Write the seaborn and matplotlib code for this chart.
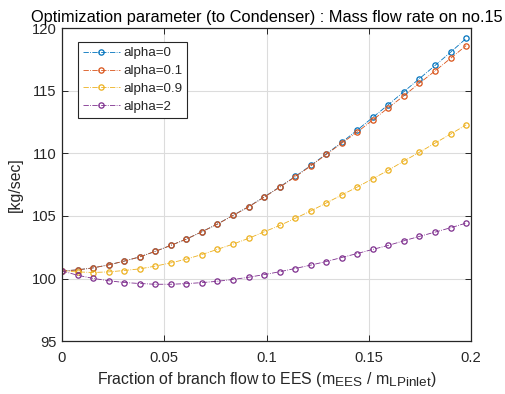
import matplotlib

matplotlib.use("Agg")
import matplotlib._mathtext as mathtext_internal
import matplotlib.pyplot as plt
import pandas as pd
import seaborn as sns

# MATLAB-style subscripts are nearly full size
mathtext_internal.SHRINK_FACTOR = 0.85

# Fraction of branch flow to EES
frac = [0.0, 0.0076, 0.0152, 0.0228, 0.0304, 0.038, 0.0456, 0.0532, 0.0608,
        0.0684, 0.076, 0.0836, 0.0912, 0.0988, 0.1064, 0.114, 0.1216, 0.1292,
        0.1368, 0.1444, 0.152, 0.1596, 0.1672, 0.1748, 0.1824, 0.19, 0.1976]

flow_a0 = [100.60, 100.69, 100.85, 101.09, 101.39, 101.73, 102.17, 102.65, 103.15,
           103.74, 104.36, 105.05, 105.74, 106.52, 107.32, 108.16, 109.04, 109.96,
           110.89, 111.88, 112.89, 113.91, 114.95, 115.99, 117.04, 118.10, 119.20]
flow_a01 = [100.60, 100.69, 100.85, 101.09, 101.39, 101.73, 102.17, 102.65, 103.15,
            103.74, 104.35, 105.04, 105.73, 106.50, 107.30, 108.13, 109.00, 109.92,
            110.83, 111.72, 112.69, 113.66, 114.62, 115.63, 116.60, 117.61, 118.63]
flow_a09 = [100.60, 100.53, 100.48, 100.53, 100.64, 100.77, 100.99, 101.25, 101.55,
            101.92, 102.33, 102.75, 103.21, 103.73, 104.24, 104.81, 105.40, 106.04,
            106.68, 107.32, 107.99, 108.66, 109.40, 110.10, 110.83, 111.55, 112.29]
flow_a2 = [100.61, 100.26, 100.01, 99.82, 99.68, 99.60, 99.54, 99.54, 99.59,
           99.67, 99.78, 99.92, 100.10, 100.31, 100.54, 100.80, 101.07, 101.36,
           101.68, 102.00, 102.33, 102.65, 103.02, 103.37, 103.71, 104.06, 104.43]

series_names = ["alpha=0", "alpha=0.1", "alpha=0.9", "alpha=2"]
series_values = [flow_a0, flow_a01, flow_a09, flow_a2]
colors = ["#0072BD", "#D95319", "#EDB120", "#7E2F8E"]

x_ticks = [0, 0.05, 0.1, 0.15, 0.2]
x_tick_labels = ["0", "0.05", "0.1", "0.15", "0.2"]
y_ticks = [95, 100, 105, 110, 115, 120]

sns.set_theme(style="whitegrid")
plt.rcParams["font.family"] = ["Liberation Sans", "DejaVu Sans"]
plt.rcParams["mathtext.fontset"] = "custom"
plt.rcParams["mathtext.rm"] = "Liberation Sans"
plt.rcParams["mathtext.it"] = "Liberation Sans"

df = pd.concat(
    [pd.DataFrame({"frac": frac, "flow": vals, "series": name})
     for name, vals in zip(series_names, series_values)],
    ignore_index=True,
)

fig = plt.figure(figsize=(5.05, 3.94), dpi=100)
ax = fig.add_axes([0.1228, 0.1345, 0.8099, 0.7932])
ax.set_facecolor("white")

for name, color in zip(series_names, colors):
    sns.lineplot(
        data=df[df["series"] == name],
        x="frac",
        y="flow",
        color=color,
        linestyle="-.",
        linewidth=0.6,
        marker="o",
        markersize=3.8,
        markerfacecolor="none",
        markeredgecolor=color,
        markeredgewidth=0.9,
        label=name,
        ax=ax,
    )

ax.set_xlim(0, 0.2)
ax.set_ylim(95, 120)
ax.set_xticks(x_ticks)
ax.set_xticklabels(x_tick_labels)
ax.set_yticks(y_ticks)
ax.grid(True, color="#dcdcdc", linewidth=0.8)
for side in ax.spines.values():
    side.set_visible(True)
    side.set_color("#262626")
    side.set_linewidth(0.9)
ax.tick_params(axis="both", direction="in", length=4, width=0.7, color="#262626",
               labelsize=10.6, labelcolor="#262626", top=True, right=True,
               bottom=True, left=True)
ax.tick_params(axis="x", pad=7.5)
ax.tick_params(axis="y", pad=4)

ax.set_title("Optimization parameter (to Condenser) : Mass flow rate on no.15",
             fontsize=11.8, color="black", pad=5)
ax.set_xlabel(r"Fraction of branch flow to EES (m$_{\mathrm{EES}}$ / m$_{\mathrm{LPinlet}}$)",
              fontsize=11.4, color="#262626", labelpad=3)
ax.set_ylabel("[kg/sec]", fontsize=11.4, color="#262626", labelpad=6)

leg = ax.legend(loc="upper left", bbox_to_anchor=(0.039, 0.956), fontsize=9.6,
                frameon=True, fancybox=False, framealpha=1, edgecolor="#262626",
                borderaxespad=0, borderpad=0.35, labelspacing=0.42,
                handlelength=2.8, handletextpad=0.25)
leg.get_frame().set_linewidth(0.8)

fig.savefig("out.png", dpi=100)
plt.close(fig)
